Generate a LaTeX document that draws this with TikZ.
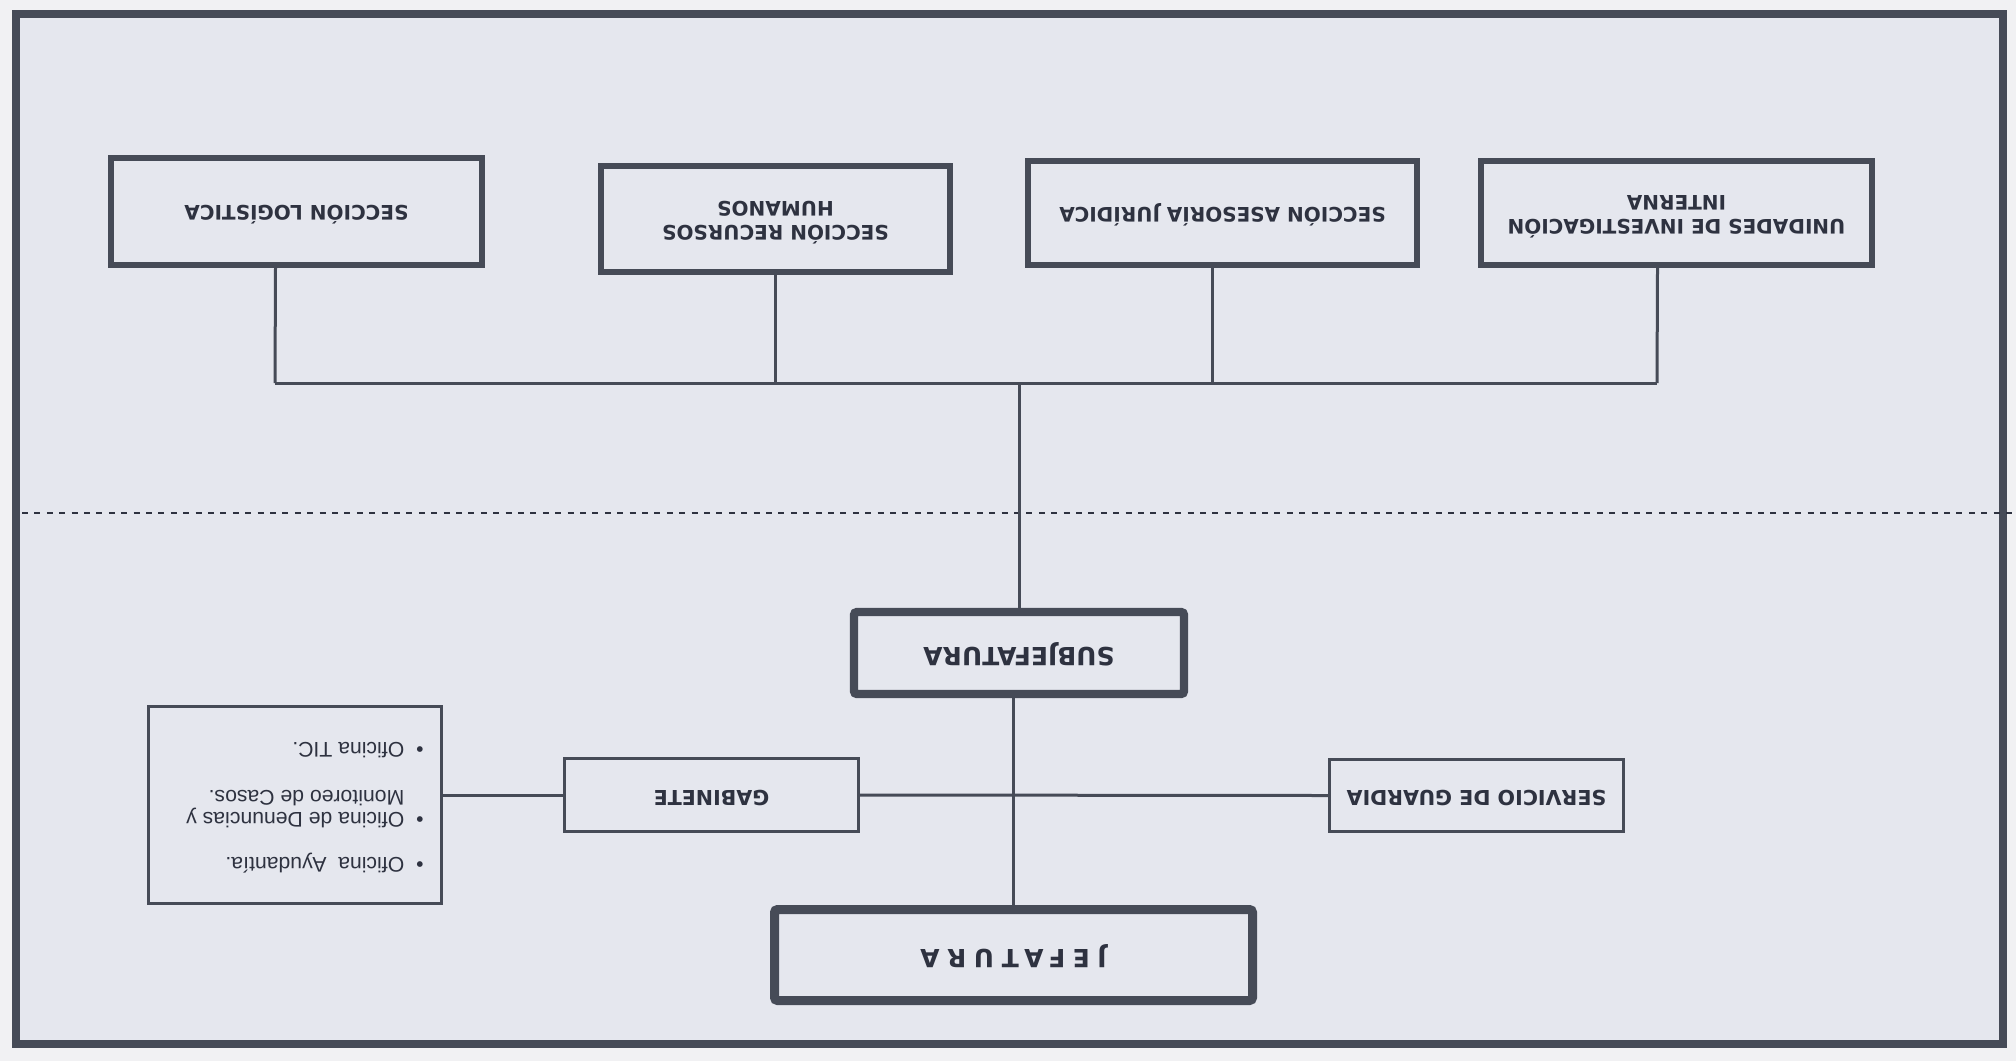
\documentclass[tikz,border=0pt]{standalone}
\usepackage{fontspec}
\usepackage{xcolor}
\usepackage{tikz}
\newfontfamily\headfont{DejaVu Sans}
\newfontfamily\jefafont[LetterSpace=30]{DejaVu Sans}
\newfontfamily\listfont{Liberation Sans}
\definecolor{framegray}{HTML}{464B57}
\definecolor{paper}{HTML}{E5E7EE}
\definecolor{outside}{HTML}{F1F1F3}
\definecolor{ink}{HTML}{2E3240}
\newcommand{\upside}[1]{\rotatebox{180}{\begin{tabular}{@{}c@{}}#1\end{tabular}}}

\begin{document}
\begin{tikzpicture}[x=0.5pt,y=-0.5pt]
\tikzstyle{every node}+=[inner sep=0pt]
\tikzstyle{sectionbox}=[draw=framegray, line width=3pt, fill=paper, text=ink, font=\headfont\bfseries\fontsize{10}{12}\selectfont]
\tikzstyle{mainbox}=[sectionbox, line width=4.2pt, rounded corners=1.5pt, font=\headfont\bfseries\fontsize{12.5}{14}\selectfont]
\tikzstyle{thinbox}=[sectionbox, line width=1.5pt, font=\headfont\bfseries\fontsize{10.3}{12}\selectfont]
\tikzstyle{link}=[draw=framegray, line width=1.5pt]
\useasboundingbox (0,0) rectangle (2016,1061);
\fill[outside] (0,0) rectangle (2016,1061);
\draw[framegray, line width=4pt, fill=paper] (16,14) rectangle (2003,1044);
\draw[ink, line width=1pt, dash pattern=on 3pt off 3.2pt] (22,513) -- (2016,513);

\node[sectionbox, minimum width=185.5pt, minimum height=53.5pt] (logistica) at (296.5,211.5) {\upside{SECCIÓN LOGÍSTICA}};
\node[sectionbox, minimum width=174.5pt, minimum height=53pt] (rrhh) at (775.5,219) {\upside{SECCIÓN RECURSOS\\HUMANOS}};
\node[sectionbox, minimum width=194.5pt, minimum height=52pt] (juridica) at (1222.5,213) {\upside{SECCIÓN ASESORÍA JURÍDICA}};
\node[sectionbox, minimum width=195.5pt, minimum height=52pt] (unidades) at (1676.5,213) {\upside{UNIDADES DE INVESTIGACIÓN\\INTERNA}};
\node[mainbox, minimum width=165pt, minimum height=41pt] (subjefatura) at (1019,653) {\upside{SUBJEFATURA}};
\node[mainbox, line width=4.5pt, minimum width=239pt, minimum height=45.5pt] (jefatura) at (1013.5,955) {\upside{\jefafont\bfseries JEFATURA}};
\node[thinbox, minimum width=147pt, minimum height=36.5pt] (gabinete) at (711.5,795) {\upside{GABINETE}};
\node[thinbox, minimum width=147pt, minimum height=36pt] (guardia) at (1476.5,795.5) {\upside{SERVICIO DE GUARDIA}};
\node[thinbox, minimum width=146.5pt, minimum height=98.5pt, font=\listfont\fontsize{10.6}{10.5}\selectfont] (oficinas) at (295,805) {\rotatebox{180}{\begin{tabular}{@{}l@{\hspace{6pt}}l@{}}
\textbullet & Oficina\ \ Ayudantía.\\[12pt]
\textbullet & Oficina de Denuncias y\\
 & Monitoreo de Casos.\\[13pt]
\textbullet & Oficina TIC.
\end{tabular}\hspace{10pt}}};

\coordinate (busL) at (275,383);
\coordinate (busR) at (1657,383);
\draw[link] (busL) -- (busR);
\draw[link] ([xshift=-10.5pt]logistica.south) -- (busL);
\draw[link] (rrhh.south) |- (busL);
\draw[link] ([xshift=-5pt]juridica.south) |- (busL);
\draw[link] ([xshift=-9.5pt]unidades.south) -- (busR);
\draw[link] (subjefatura.north) -- (subjefatura.north |- busL);
\draw[link] (jefatura.north) -- (jefatura.north |- subjefatura.south);
\draw[link] (gabinete.east) -- (guardia.west);
\draw[link] (gabinete.west) -- (gabinete.west -| oficinas.east);
\end{tikzpicture}
\end{document}
